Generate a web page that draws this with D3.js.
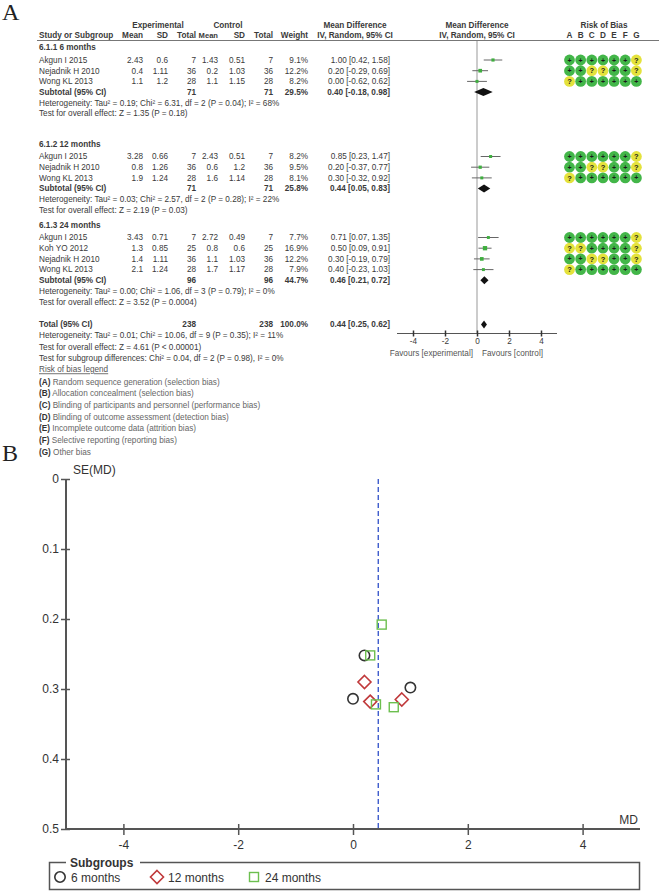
<!DOCTYPE html>
<html><head><meta charset="utf-8">
<script src="https://cdn.jsdelivr.net/npm/d3@7"></script>
<style>
html,body{margin:0;padding:0;background:#fff;}
svg{display:block;font-family:"Liberation Sans",Arial,sans-serif;}
</style></head>
<body>
<script>
// ---------- DATA ----------
const subgroups = ["6.1.1 6 months", "6.1.2 12 months", "6.1.3 24 months"];
const studyNames = [
  ["Akgun I 2015", "Nejadnik H 2010", "Wong KL 2013"],
  ["Akgun I 2015", "Nejadnik H 2010", "Wong KL 2013"],
  ["Akgun I 2015", "Koh YO 2012", "Nejadnik H 2010", "Wong KL 2013"]
];
const expMean = [["2.43","0.4","1.1"],["3.28","0.8","1.9"],["3.43","1.3","1.4","2.1"]];
const expSD   = [["0.6","1.11","1.2"],["0.66","1.26","1.24"],["0.71","0.85","1.11","1.24"]];
const expN    = [[7,36,28],[7,36,28],[7,25,36,28]];
const ctlMean = [["1.43","0.2","1.1"],["2.43","0.6","1.6"],["2.72","0.8","1.1","1.7"]];
const ctlSD   = [["0.51","1.03","1.15"],["0.51","1.2","1.14"],["0.49","0.6","1.03","1.17"]];
const ctlN    = [[7,36,28],[7,36,28],[7,25,36,28]];
const weights = [[9.1,12.2,8.2],[8.2,9.5,8.1],[7.7,16.9,12.2,7.9]];
const md      = [[1.00,0.20,0.00],[0.85,0.20,0.30],[0.71,0.50,0.30,0.40]];
const ciLo    = [[0.42,-0.29,-0.62],[0.23,-0.37,-0.32],[0.07,0.09,-0.19,-0.23]];
const ciHi    = [[1.58,0.69,0.62],[1.47,0.77,0.92],[1.35,0.91,0.79,1.03]];
const riskOfBias = [
  ["++++++?", "++??++?", "?++++++"],
  ["++++++?", "++??++?", "?++++++"],
  ["++++++?", "??++++?", "++??++?", "?++++++"]
];
const subTotalN = [71, 71, 96];
const subWeight = ["29.5%", "25.8%", "44.7%"];
const subMD = [0.40, 0.44, 0.46];
const subLo = [-0.18, 0.05, 0.21];
const subHi = [0.98, 0.83, 0.72];
const subHet = [
  "Heterogeneity: Tau² = 0.19; Chi² = 6.31, df = 2 (P = 0.04); I² = 68%",
  "Heterogeneity: Tau² = 0.03; Chi² = 2.57, df = 2 (P = 0.28); I² = 22%",
  "Heterogeneity: Tau² = 0.00; Chi² = 1.06, df = 3 (P = 0.79); I² = 0%"
];
const subTest = [
  "Test for overall effect: Z = 1.35 (P = 0.18)",
  "Test for overall effect: Z = 2.19 (P = 0.03)",
  "Test for overall effect: Z = 3.52 (P = 0.0004)"
];
const totalN = 238, totalWeight = "100.0%", totalMD = 0.44, totalLo = 0.25, totalHi = 0.62;
const totalLines = [
  "Heterogeneity: Tau² = 0.01; Chi² = 10.06, df = 9 (P = 0.35); I² = 11%",
  "Test for overall effect: Z = 4.61 (P < 0.00001)",
  "Test for subgroup differences: Chi² = 0.04, df = 2 (P = 0.98), I² = 0%"
];
const biasLetters = ["A","B","C","D","E","F","G"];
const biasLegend = [
  "Random sequence generation (selection bias)",
  "Allocation concealment (selection bias)",
  "Blinding of participants and personnel (performance bias)",
  "Blinding of outcome assessment (detection bias)",
  "Incomplete outcome data (attrition bias)",
  "Selective reporting (reporting bias)",
  "Other bias"
];
const forestTicks = [-4, -2, 0, 2, 4];
// funnel plot
const funnelGroups = ["6 months", "12 months", "24 months"];
const funnelMD = [[1.00,0.20,0.00],[0.85,0.20,0.30],[0.71,0.50,0.30,0.40]];
const funnelSE = [[0.298,0.252,0.314],[0.315,0.290,0.318],[0.326,0.208,0.252,0.322]];
const funnelXTicks = [-4,-2,0,2,4];
const funnelYTicks = [0,0.1,0.2,0.3,0.4,0.5];

// ---------- SETUP ----------
const W = 659, H = 893;
const svg = d3.select("body").append("svg").attr("width", W).attr("height", H);
const FS = 8.2;
const txt = "#3a3a3a";
const fmt2 = d3.format(".2f");
const hy = s => String(s).replace(/\u2212/g, "-");
const ciText = (m,l,h) => hy(`${fmt2(m)} [${fmt2(l)}, ${fmt2(h)}]`);

// Panel letters
svg.append("text").attr("x", 2).attr("y", 20).attr("font-family","Liberation Serif, serif")
  .attr("font-size", 24).attr("fill", "#222").text("A");
svg.append("text").attr("x", 2).attr("y", 461).attr("font-family","Liberation Serif, serif")
  .attr("font-size", 24).attr("fill", "#222").text("B");

// ---------- FOREST ----------
const fx = d3.scaleLinear().domain([-5, 5]).range([397, 557]);
const col = {name: 39, eM: 143, eSD: 168, eN: 196, cM: 218, cSD: 245, cN: 273, w: 308, ci: 390};
const rob0 = 569.5, robStep = 11.15, robR = 5.4;

const g = svg.append("g").attr("font-size", FS).attr("fill", txt);
function t(x, y, s, anchor, bold, color) {
  return g.append("text").attr("x", x).attr("y", y).attr("dy", "0.35em")
    .attr("text-anchor", anchor || "start")
    .attr("font-weight", bold ? "bold" : null)
    .attr("fill", color || txt).text(s);
}
// headers
t(158, 25, "Experimental", "middle", true);
t(228, 25, "Control", "middle", true);
t(355, 25, "Mean Difference", "middle", true);
t(477, 25, "Mean Difference", "middle", true);
t(604, 25, "Risk of Bias", "middle", true);
t(col.name, 35.5, "Study or Subgroup", "start", true);
t(col.eM, 35.5, "Mean", "end", true);
t(col.eSD, 35.5, "SD", "end", true);
t(col.eN, 35.5, "Total", "end", true);
t(col.cM, 35.5, "Mean", "end", true).attr("font-size", 7.6);
t(col.cSD, 35.5, "SD", "end", true);
t(col.cN, 35.5, "Total", "end", true);
t(col.w, 35.5, "Weight", "end", true);
t(355, 35.5, "IV, Random, 95% CI", "middle", true);
t(477, 35.5, "IV, Random, 95% CI", "middle", true);
biasLetters.forEach((L, i) => t(rob0 + i * robStep, 35.5, L, "middle", true));
svg.append("line").attr("x1", 37).attr("x2", 659).attr("y1", 40.5).attr("y2", 40.5)
  .attr("stroke", "#777").attr("stroke-width", 1);

// zero line
svg.append("line").attr("x1", fx(0)).attr("x2", fx(0)).attr("y1", 41).attr("y2", 333)
  .attr("stroke", "#999").attr("stroke-width", 1);

const LH = 10.7;
const blockTop = [47.5, 144, 225];
const green = "#43b649", yellow = "#e4e23c";

subgroups.forEach((sg, b) => {
  let y = blockTop[b];
  t(col.name, y, sg, "start", true);
  y += 12.5;
  studyNames[b].forEach((nm, i) => {
    t(col.name, y, nm);
    t(col.eM, y, expMean[b][i], "end");
    t(col.eSD, y, expSD[b][i], "end");
    t(col.eN, y, expN[b][i], "end");
    t(col.cM, y, ctlMean[b][i], "end");
    t(col.cSD, y, ctlSD[b][i], "end");
    t(col.cN, y, ctlN[b][i], "end");
    t(col.w, y, weights[b][i].toFixed(1) + "%", "end");
    t(col.ci, y, ciText(md[b][i], ciLo[b][i], ciHi[b][i]), "end");
    svg.append("line").attr("x1", fx(ciLo[b][i])).attr("x2", fx(ciHi[b][i]))
      .attr("y1", y).attr("y2", y).attr("stroke", "#666").attr("stroke-width", 1);
    const s = Math.sqrt(weights[b][i]) * 1.05;
    svg.append("rect").attr("x", fx(md[b][i]) - s / 2).attr("y", y - s / 2)
      .attr("width", s).attr("height", s).attr("fill", "#3fae3f");
    riskOfBias[b][i].split("").forEach((r, k) => {
      const cx = rob0 + k * robStep;
      svg.append("circle").attr("cx", cx).attr("cy", y).attr("r", robR)
        .attr("fill", r === "+" ? green : yellow);
      svg.append("text").attr("x", cx).attr("y", y).attr("dy", "0.36em")
        .attr("text-anchor", "middle").attr("font-size", r === "+" ? 7 : 7.5)
        .attr("font-weight", "bold").attr("fill", "#1a1a1a").text(r);
    });
    y += LH;
  });
  t(col.name, y, "Subtotal (95% CI)", "start", true);
  t(col.eN, y, subTotalN[b], "end", true);
  t(col.cN, y, subTotalN[b], "end", true);
  t(col.w, y, subWeight[b], "end", true);
  t(col.ci, y, ciText(subMD[b], subLo[b], subHi[b]), "end", true);
  svg.append("path").attr("d",
    `M${fx(subLo[b])},${y} L${fx(subMD[b])},${y - 4} L${fx(subHi[b])},${y} L${fx(subMD[b])},${y + 4} Z`)
    .attr("fill", "#111");
  y += LH;
  t(col.name, y, subHet[b]);
  y += LH;
  t(col.name, y, subTest[b]);
});

// total
const ty = 324.5;
t(col.name, ty, "Total (95% CI)", "start", true);
t(col.eN, ty, totalN, "end", true);
t(col.cN, ty, totalN, "end", true);
t(col.w, ty, totalWeight, "end", true);
t(col.ci, ty, ciText(totalMD, totalLo, totalHi), "end", true);
svg.append("path").attr("d",
  `M${fx(totalLo)},${ty} L${fx(totalMD)},${ty - 4} L${fx(totalHi)},${ty} L${fx(totalMD)},${ty + 4} Z`)
  .attr("fill", "#111");
totalLines.forEach((s, i) => t(col.name, 335.5 + i * 11.3, s));
t(col.name, 369.5, "Risk of bias legend", "start", false, "#555")
  .attr("text-decoration", "underline");
biasLetters.forEach((L, i) => {
  const tt = t(col.name, 381.8 + i * 11.7, "", "start", false, "#666");
  tt.append("tspan").attr("font-weight", "bold").attr("fill", "#333").text(`(${L})`);
  tt.append("tspan").text(" " + biasLegend[i]);
});

// forest axis
const fa = svg.append("g").attr("transform", "translate(0,333.5)");
fa.call(d3.axisBottom(fx).tickValues(forestTicks).tickSize(0).tickPadding(5).tickFormat(d => String(d)));
fa.select(".domain").attr("stroke", "#555").attr("d", `M${fx(-5)},0H${fx(5)}`);
fa.selectAll(".tick line").attr("y1", -3).attr("y2", 3).attr("stroke", "#333").attr("stroke-width", 1.5);
fa.selectAll(".tick text").attr("font-size", FS).attr("fill", txt).attr("font-family", "Liberation Sans, Arial");
t(fx(0) - 4, 353, "Favours [experimental]", "end", false, "#555");
t(fx(0) + 5, 353, "Favours [control]", "start", false, "#555");

// ---------- FUNNEL ----------
const mx = d3.scaleLinear().domain([-5, 5]).range([66, 640]);
const sy = d3.scaleLinear().domain([0, 0.5]).range([479, 829]);
const axCol = "#555";

const yAx = svg.append("g").attr("transform", `translate(${mx(-5)},0)`)
  .call(d3.axisLeft(sy).tickValues(funnelYTicks).tickSize(5).tickPadding(3)
    .tickFormat(d => d === 0 ? "0" : d3.format(".1f")(d)));
yAx.select(".domain").attr("stroke", axCol).attr("stroke-width", 2).attr("d", `M0,${sy(0)}V${sy(0.5)}`);
yAx.selectAll(".tick line").attr("x1", -5).attr("x2", 4).attr("stroke", axCol).attr("stroke-width", 1.5);
yAx.selectAll(".tick text").attr("font-size", 12).attr("fill", "#333")
  .attr("font-family", "Liberation Sans, Arial").attr("x", -7);

const xAx = svg.append("g").attr("transform", `translate(0,${sy(0.5)})`)
  .call(d3.axisBottom(mx).tickValues(funnelXTicks).tickSize(5).tickPadding(6).tickFormat(d => String(d)));
xAx.select(".domain").attr("stroke", axCol).attr("stroke-width", 2).attr("d", `M${mx(-5)},0H${mx(5)}`);
xAx.selectAll(".tick line").attr("y1", -5).attr("y2", 6).attr("stroke", axCol).attr("stroke-width", 1.5);
xAx.selectAll(".tick text").attr("font-size", 12).attr("fill", "#333")
  .attr("font-family", "Liberation Sans, Arial");

svg.append("text").attr("x", mx(-5) + 7).attr("y", 474).attr("font-size", 12).attr("fill", "#333").text("SE(MD)");
svg.append("text").attr("x", mx(5) - 2).attr("y", 824).attr("text-anchor", "end")
  .attr("font-size", 12).attr("fill", "#333").text("MD");

svg.append("line").attr("x1", mx(totalMD)).attr("x2", mx(totalMD)).attr("y1", sy(0)).attr("y2", sy(0.5))
  .attr("stroke", "#2f4fc8").attr("stroke-width", 1.3).attr("stroke-dasharray", "5,3");

const markerCol = ["#333", "#c0393b", "#6cbf4f"];
function marker(sel, grp, x, y) {
  if (grp === 0) sel.append("circle").attr("cx", x).attr("cy", y).attr("r", 5.2)
    .attr("fill", "none").attr("stroke", markerCol[0]).attr("stroke-width", 1.6);
  else if (grp === 1) sel.append("path")
    .attr("d", `M${x},${y - 6.5}L${x + 6.5},${y}L${x},${y + 6.5}L${x - 6.5},${y}Z`)
    .attr("fill", "none").attr("stroke", markerCol[1]).attr("stroke-width", 1.6);
  else sel.append("rect").attr("x", x - 4.5).attr("y", y - 4.5).attr("width", 9).attr("height", 9)
    .attr("fill", "none").attr("stroke", markerCol[2]).attr("stroke-width", 1.4);
}
const pts = svg.append("g");
funnelMD.forEach((arr, gi) => arr.forEach((m, i) => marker(pts, gi, mx(m), sy(funnelSE[gi][i]))));

// legend box
svg.append("rect").attr("x", 49.5).attr("y", 862.5).attr("width", 590).attr("height", 27)
  .attr("fill", "none").attr("stroke", "#555").attr("stroke-width", 1.5);
svg.append("rect").attr("x", 66).attr("y", 855).attr("width", 74).attr("height", 14).attr("fill", "#fff");
svg.append("text").attr("x", 70).attr("y", 866.5).attr("font-size", 12).attr("font-weight", "bold")
  .attr("fill", "#333").text("Subgroups");
const legX = [60, 157, 254];
funnelGroups.forEach((name, gi) => {
  marker(svg, gi, legX[gi], 877);
  svg.append("text").attr("x", legX[gi] + 11).attr("y", 881.5).attr("font-size", 12)
    .attr("fill", "#333").text(name);
});
</script>
</body></html>
